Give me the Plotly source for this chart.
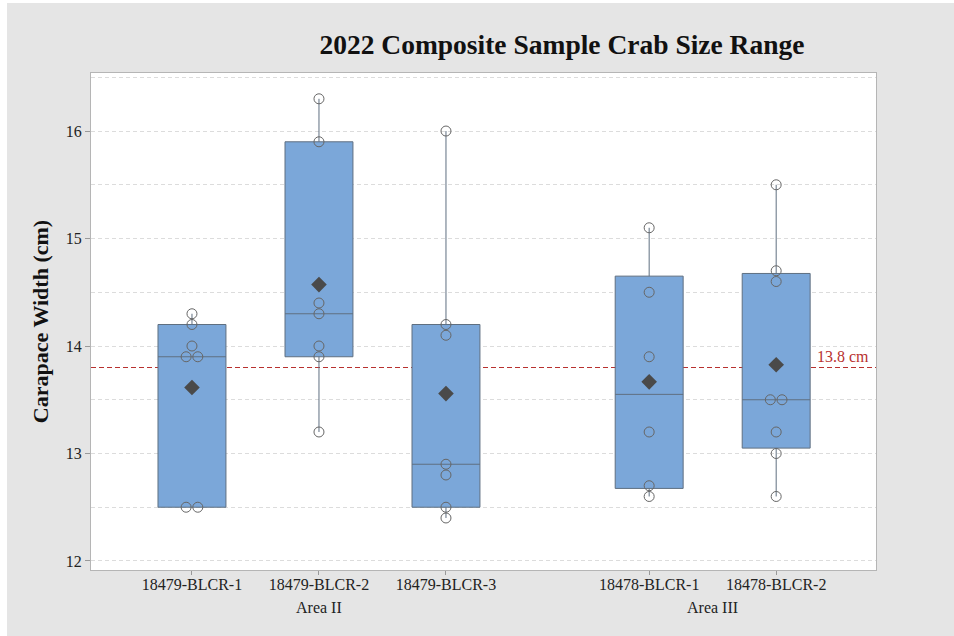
import numpy as np
import plotly.graph_objects as go

# ---- data ----
categories = ["18479-BLCR-1", "18479-BLCR-2", "18479-BLCR-3", "18478-BLCR-1", "18478-BLCR-2"]
areas = ["Area II", "Area II", "Area II", "Area III", "Area III"]
s_18479_blcr_1 = [14.3, 14.2, 14.0, 13.9, 13.9, 12.5, 12.5]
s_18479_blcr_2 = [16.3, 15.9, 14.4, 14.3, 14.0, 13.9, 13.2]
s_18479_blcr_3 = [16.0, 14.2, 14.1, 12.9, 12.8, 12.5, 12.4]
s_18478_blcr_1 = [15.1, 14.5, 13.9, 13.2, 12.7, 12.6]
s_18478_blcr_2 = [15.5, 14.7, 14.6, 13.5, 13.5, 13.2, 13.0, 12.6]
reference_value = 13.8
reference_label = "13.8 cm"
y_ticks = [12, 13, 14, 15, 16]

samples = [s_18479_blcr_1, s_18479_blcr_2, s_18479_blcr_3, s_18478_blcr_1, s_18478_blcr_2]

# ---- positions (gap between area groups) ----
GROUP_GAP = 0.6
area_order = list(dict.fromkeys(areas))
positions = [i + GROUP_GAP * area_order.index(a) for i, a in enumerate(areas)]

# ---- box statistics (Minitab-style quartiles) ----
q1s, meds, q3s, lows, highs, means = [], [], [], [], [], []
for v in samples:
    arr = np.array(v)
    q1, med, q3 = np.percentile(arr, [25, 50, 75], method="weibull")
    iqr = q3 - q1
    lows.append(float(arr[arr >= q1 - 1.5 * iqr].min()))
    highs.append(float(arr[arr <= q3 + 1.5 * iqr].max()))
    q1s.append(float(q1)); meds.append(float(med)); q3s.append(float(q3))
    means.append(float(arr.mean()))

# ---- individual points with symmetric dodge of duplicates ----
DODGE = 0.092
px, py = [], []
for pos, v in zip(positions, samples):
    vals, counts = np.unique(v, return_counts=True)
    for val, c in zip(vals, counts):
        for k in range(c):
            px.append(pos + (k - (c - 1) / 2) * DODGE)
            py.append(float(val))

SERIF = "Liberation Serif, Times New Roman, serif"
RED = "#b8312f"

fig = go.Figure()
fig.add_trace(go.Box(
    x=positions, q1=q1s, median=meds, q3=q3s,
    lowerfence=lows, upperfence=highs,
    width=0.535, whiskerwidth=0,
    fillcolor="#7ba7d9",
    line=dict(color="#5f6f80", width=1),
    boxpoints=False, showlegend=False, hoverinfo="skip",
))
fig.add_trace(go.Scatter(
    x=px, y=py, mode="markers",
    marker=dict(symbol="circle-open", size=10, color="#666666", line=dict(width=1, color="#666666")),
    showlegend=False,
))
fig.add_trace(go.Scatter(
    x=positions, y=means, mode="markers",
    marker=dict(symbol="diamond", size=12, color="#4a4a4a"),
    showlegend=False,
))

fig.add_shape(type="line", xref="paper", x0=0, x1=1, yref="y",
              y0=reference_value, y1=reference_value,
              line=dict(color=RED, width=1, dash="5px,3px"), layer="below")
fig.add_annotation(xref="paper", x=0.993, yref="y", y=reference_value,
                   text=reference_label, showarrow=False, xanchor="right",
                   yanchor="bottom", yshift=1,
                   font=dict(family=SERIF, size=16, color=RED))

area_centers = [np.mean([p for p, a in zip(positions, areas) if a == ar]) for ar in area_order]
for ar, c in zip(area_order, area_centers):
    fig.add_annotation(xref="x", x=c, yref="paper", y=-0.075, text=ar,
                       showarrow=False, yanchor="middle",
                       font=dict(family=SERIF, size=16, color="#222222"))

fig.update_layout(
    width=947, height=633,
    paper_bgcolor="#e5e5e5", plot_bgcolor="#ffffff",
    margin=dict(l=84, r=78, t=70, b=66),
    title=dict(text="<b>2022 Composite Sample Crab Size Range</b>",
               xref="container", x=0.586, xanchor="center",
               yref="container", y=0.935, yanchor="middle",
               font=dict(family=SERIF, size=27.5, color="#111111")),
    font=dict(family=SERIF, color="#222222"),
)
fig.update_xaxes(
    range=[-0.795, 5.386], tickvals=positions, ticktext=categories,
    ticks="outside", ticklen=4, tickcolor="#999999",
    ticklabelstandoff=-4,
    showgrid=False, zeroline=False,
    showline=True, linecolor="#b5b5b5", linewidth=1, mirror=True,
    tickfont=dict(family=SERIF, size=16, color="#222222"),
)
fig.update_yaxes(
    range=[11.916, 16.54], tickvals=y_ticks,
    ticks="outside", ticklen=5, tickcolor="#999999",
    showgrid=True, gridcolor="#dcdcdc", griddash="4px,3px", gridwidth=1,
    minor=dict(dtick=0.5, showgrid=True, gridcolor="#dcdcdc", griddash="4px,3px"),
    zeroline=False,
    showline=True, linecolor="#b5b5b5", linewidth=1, mirror=True,
    tickfont=dict(family=SERIF, size=16, color="#222222"),
    title=dict(text="<b>Carapace Width (cm)</b>", standoff=11,
               font=dict(family=SERIF, size=22, color="#111111")),
)

fig.write_html("out.html", post_script="document.body.style.margin='3px 0 0 7px';")
